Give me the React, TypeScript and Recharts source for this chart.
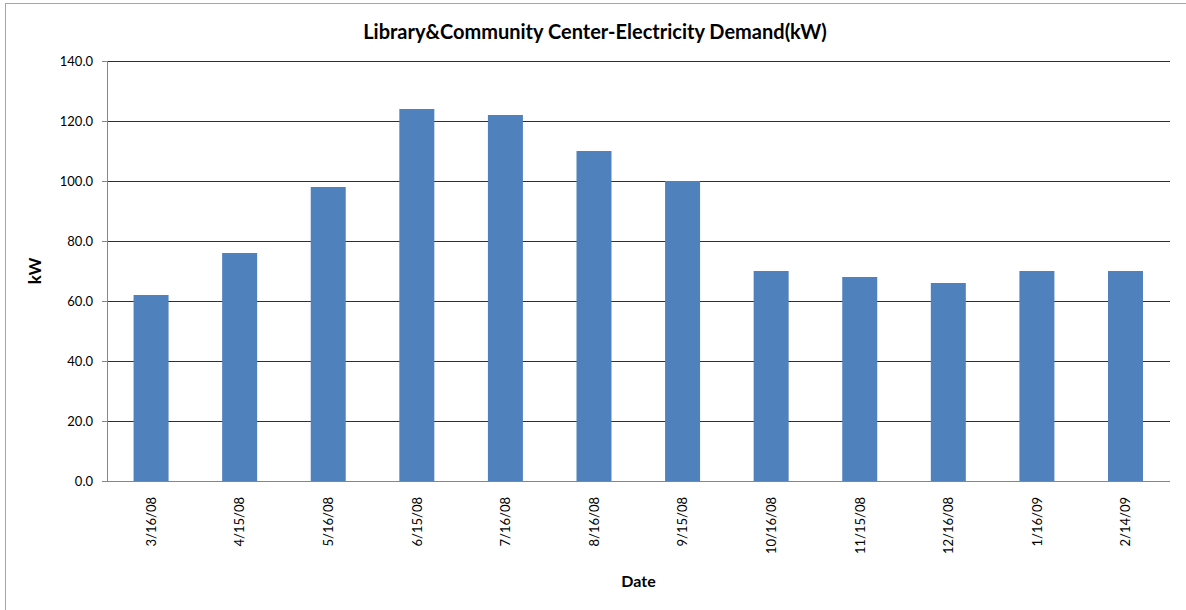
import React from "react"
import { BarChart, Bar, XAxis, YAxis, CartesianGrid, Label } from "recharts"

const dates = ["3/16/08", "4/15/08", "5/16/08", "6/15/08", "7/16/08", "8/16/08", "9/15/08", "10/16/08", "11/15/08", "12/16/08", "1/16/09", "2/14/09"]
const demandKw = [62, 76, 98, 124, 122, 110, 100, 70, 68, 66, 70, 70]
const yTicks = [0, 20, 40, 60, 80, 100, 120, 140]

const data = dates.map((date, i) => ({ date, kw: demandKw[i] }))

const FONT = "Lato, 'Open Sans', sans-serif"

function DateTick(props: any) {
  const { x, y, payload } = props
  return (
    <g transform={`translate(${x},${y})`}>
      <text transform="rotate(-90)" textAnchor="end" dy="0.35em" fontSize={13} fill="#000" fontFamily={FONT}>
        {payload.value}
      </text>
    </g>
  )
}

export default function App() {
  return (
    <div style={{ position: "absolute", left: 0, top: 0, width: 1186, height: 610, overflow: "hidden", background: "#fff" }}>
      <div
        style={{
          position: "absolute",
          left: 5,
          top: 3,
          width: 1200,
          height: 640,
          border: "1px solid #a6a6a6",
        }}
      />
      <div
        style={{
          position: "absolute",
          left: 0,
          top: 19,
          width: 1190,
          textAlign: "center",
          fontFamily: FONT,
          fontWeight: 700,
          fontSize: 20,
          lineHeight: "24px",
          color: "#000",
        }}
      >
        Library&amp;Community Center-Electricity Demand(kW)
      </div>
      <div style={{ position: "absolute", left: 0, top: 0 }}>
        <BarChart width={1186} height={610} data={data} margin={{ top: 61, right: 16, bottom: 0, left: 0 }} barCategoryGap="30%">
          <CartesianGrid yAxisId="left" vertical={false} stroke="#303030" shapeRendering="crispEdges" />
          <XAxis
            dataKey="date"
            height={129}
            tickLine={false}
            tickSize={0}
            tickMargin={16}
            axisLine={{ stroke: "#868686", shapeRendering: "crispEdges" }}
            tick={<DateTick />}
            interval={0}
          >
            <Label value="Date" position="insideBottom" offset={23} style={{ fontFamily: FONT, fontWeight: 700, fontSize: 16, fill: "#000" }} />
          </XAxis>
          <YAxis
            yAxisId="left"
            width={107}
            domain={[0, 140]}
            ticks={yTicks}
            tickFormatter={(v: number) => v.toFixed(1)}
            tickSize={5}
            tickMargin={9}
            axisLine={{ stroke: "#868686", shapeRendering: "crispEdges" }}
            tickLine={{ stroke: "#868686", shapeRendering: "crispEdges" }}
            tick={{ fontSize: 13, fill: "#000", fontFamily: FONT }}
          >
            <Label
              value="kW"
              angle={-90}
              position="insideLeft"
              offset={35}
              style={{ fontFamily: FONT, fontWeight: 700, fontSize: 17, fill: "#000", textAnchor: "middle" }}
            />
          </YAxis>
          <YAxis
            yAxisId="right"
            orientation="right"
            width={0}
            tick={false}
            tickLine={false}
            axisLine={{ stroke: "#303030", shapeRendering: "crispEdges" }}
            domain={[0, 140]}
          />
          <Bar yAxisId="left" dataKey="kw" fill="#4F81BD" isAnimationActive={false} />
        </BarChart>
      </div>
    </div>
  )
}
